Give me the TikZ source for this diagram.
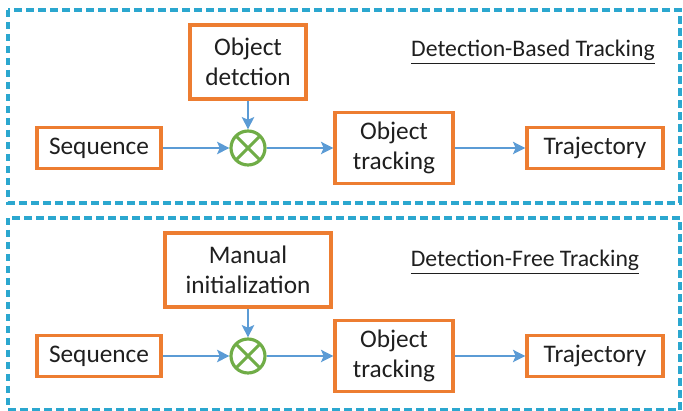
\documentclass[tikz,border=0pt]{standalone}
\usepackage{fontspec}
\setmainfont{Carlito}
\usepackage{tikz}
\usetikzlibrary{arrows.meta}
\definecolor{boxorange}{HTML}{ED7D31}
\definecolor{flowblue}{HTML}{5B9BD5}
\definecolor{mixgreen}{HTML}{70AD47}
\definecolor{framecyan}{HTML}{2BA7CF}
\definecolor{txtgray}{HTML}{1F1F1F}
\tikzset{
  stageblock/.style={
    rectangle, draw=boxorange, line width=1.9pt, fill=white,
    minimum width=#1, minimum height=0.82cm,
    font=\fontsize{14.4}{17}\selectfont, text=txtgray,
    align=center, inner sep=2pt
  },
  stageblock/.default=2.48cm,
  flowarrow/.style={
    -{Stealth[length=7pt, width=7pt, inset=1.5pt]}, line width=1.25pt, color=flowblue
  },
  mixnode/.style={
    circle, draw=mixgreen, line width=1.8pt, fill=white,
    minimum size=0.68cm, inner sep=0pt,
    path picture={
      \draw[mixgreen, line width=1.8pt]
        (path picture bounding box.north west) -- (path picture bounding box.south east)
        (path picture bounding box.north east) -- (path picture bounding box.south west);
    }
  },
  groupframe/.style={
    draw=framecyan, line width=2pt, dash pattern=on 1.5mm off 0.9mm
  },
  titlenode/.style={
    font=\fontsize{13.5}{16}\selectfont, text=txtgray, inner sep=1pt
  },
}

\begin{document}
\begin{tikzpicture}[x=0.2mm, y=-0.2mm]
  \useasboundingbox (0,0) rectangle (683,411);

  % Frames
  \draw[groupframe] (8,10) rectangle (680,203);
  \draw[groupframe] (8,218) rectangle (680,410);

  % Detection-based row
  \node[titlenode] (titleA) at (533,52) {\underline{Detection-Based Tracking}};
  \node[stageblock=2.32cm, minimum height=1.48cm] (detA) at (248,62) {Object\\detction};
  \node[stageblock] (seqA) at (99,148) {Sequence};
  \node[mixnode] (mixA) at (248,148) {};
  \node[stageblock=2.36cm, minimum height=1.42cm] (trkA) at (394,148) {Object\\tracking};
  \node[stageblock=2.72cm] (trajA) at (595,148) {Trajectory};

  \draw[flowarrow] (detA.south) -- (mixA.north);
  \draw[flowarrow] (seqA.east) -- (mixA.west);
  \draw[flowarrow] (mixA.east) -- (trkA.west);
  \draw[flowarrow] (trkA.east) -- (trajA.west);

  % Detection-free row
  \node[titlenode] (titleB) at (525,262) {\underline{Detection-Free Tracking}};
  \node[stageblock=3.32cm, minimum height=1.48cm] (initB) at (248,270) {Manual\\initialization};
  \node[stageblock] (seqB) at (99,356) {Sequence};
  \node[mixnode] (mixB) at (248,356) {};
  \node[stageblock=2.36cm, minimum height=1.42cm] (trkB) at (394,356) {Object\\tracking};
  \node[stageblock=2.72cm] (trajB) at (595,356) {Trajectory};

  \draw[flowarrow] (initB.south) -- (mixB.north);
  \draw[flowarrow] (seqB.east) -- (mixB.west);
  \draw[flowarrow] (mixB.east) -- (trkB.west);
  \draw[flowarrow] (trkB.east) -- (trajB.west);
\end{tikzpicture}
\end{document}
